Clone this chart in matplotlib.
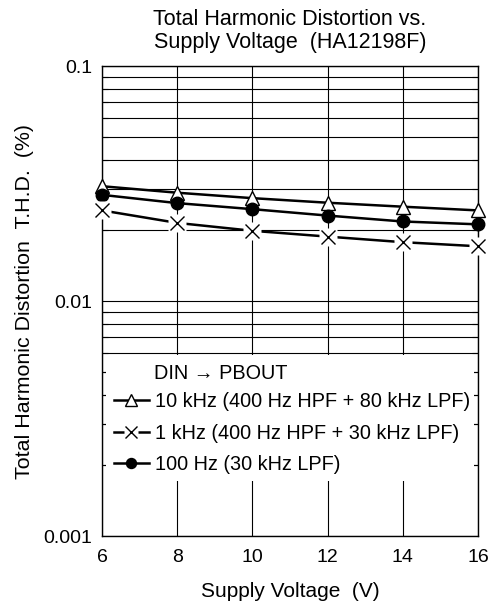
import matplotlib
matplotlib.use("Agg")
import matplotlib.pyplot as plt
from matplotlib.patches import Rectangle
from matplotlib.ticker import LogLocator, NullFormatter, FixedLocator, FixedFormatter

plt.rcParams['font.family'] = ['Liberation Sans', 'DejaVu Sans']

supply_v = [6, 8, 10, 12, 14, 16]
thd_10k = [0.0308, 0.0289, 0.0274, 0.0262, 0.0252, 0.0243]
thd_1k = [0.0243, 0.0215, 0.0199, 0.0188, 0.0178, 0.0171]
thd_100 = [0.0283, 0.0261, 0.0246, 0.0231, 0.0218, 0.0212]

labels = ["10 kHz (400 Hz HPF + 80 kHz LPF)",
          "1 kHz (400 Hz HPF + 30 kHz LPF)",
          "100 Hz (30 kHz LPF)"]
legend_title = "DIN \u2192 PBOUT"
y_ticks = [0.001, 0.01, 0.1]
y_ticklabels = ["0.001", "0.01", "0.1"]
x_ticks = [6, 8, 10, 12, 14, 16]

fig = plt.figure(figsize=(4.96, 6.08), dpi=100)
ax = fig.add_axes([0.2056, 0.1184, 0.7581, 0.7730])
ax.set_yscale('log')
ax.set_xlim(6, 16)
ax.set_ylim(0.001, 0.1)
ax.set_axisbelow(True)

ax.yaxis.set_major_locator(FixedLocator(y_ticks))
ax.yaxis.set_major_formatter(FixedFormatter(y_ticklabels))
ax.yaxis.set_minor_locator(LogLocator(base=10, subs=range(2, 10)))
ax.yaxis.set_minor_formatter(NullFormatter())
ax.set_xticks(x_ticks)
ax.set_xticklabels([str(v) for v in x_ticks])

ax.grid(True, which='both', color='black', linewidth=0.8)
ax.tick_params(axis='both', which='major', length=0, labelsize=14)
ax.tick_params(axis='y', which='major', pad=7)
ax.tick_params(axis='x', which='major', pad=9)
ax.tick_params(axis='y', which='minor', direction='in', length=4, width=0.8,
               left=True, right=True, color='black')
for s in ax.spines.values():
    s.set_linewidth(1.0)

# white legend area covering grid
ax.add_patch(Rectangle((6.1, 0.00171), 9.8, 0.00588 - 0.00171, facecolor='white',
                       edgecolor='none', zorder=1))

lw = 1.8
l1, = ax.plot(supply_v, thd_10k, color='black', lw=lw, marker='^', ms=10,
              mfc='white', mec='black', mew=1.0, zorder=3, clip_on=False)
l2, = ax.plot(supply_v, thd_1k, color='black', lw=lw, zorder=3, clip_on=False)
w2, = ax.plot(supply_v, thd_1k, ls='none', marker='s', ms=13, mfc='white', mec='none',
              zorder=3.5, clip_on=False)
m2, = ax.plot(supply_v, thd_1k, ls='none', marker='x', ms=10, mec='black', mew=1.0,
              zorder=4, clip_on=False)
l3, = ax.plot(supply_v, thd_100, color='black', lw=lw, marker='o', ms=9,
              mfc='black', mec='black', zorder=3, clip_on=False)

leg = ax.legend([l1, (l2, w2, m2), l3], labels, loc='upper left',
                bbox_to_anchor=(0.0, 0.331), frameon=False, fontsize=14.3,
                handlelength=1.75, handletextpad=0.3, labelspacing=0.62,
                borderaxespad=0.2, borderpad=0.4, markerscale=0.8)
ax.text(0.138, 0.346, legend_title, transform=ax.transAxes, fontsize=14.3,
        va='center', ha='left')

ax.set_title("Total Harmonic Distortion vs.\nSupply Voltage  (HA12198F)",
             fontsize=15.5, pad=13, linespacing=1.15)
ax.set_xlabel("Supply Voltage  (V)", fontsize=15, labelpad=12)
ax.set_ylabel("Total Harmonic Distortion  T.H.D.  (%)", fontsize=15.4, labelpad=7)

fig.savefig("out.png", dpi=100)
